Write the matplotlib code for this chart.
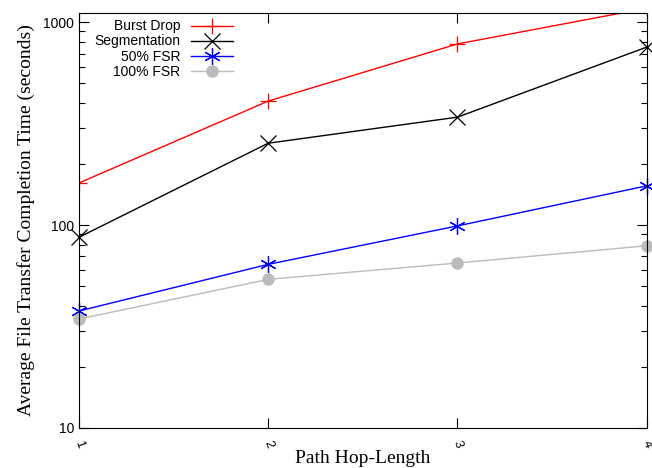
#!/usr/bin/env python3
# -*- coding: utf-8 -*-

import numpy as np
import matplotlib
matplotlib.use('Agg')
import matplotlib.pyplot as plt
from matplotlib.ticker import LogLocator, NullFormatter, FixedLocator

# data
hops = [1, 2, 3, 4]
burst_drop = [161, 408, 780, 1170]
segmentation = [87, 253, 340, 753]
fsr_50 = [37.7, 64, 99, 156]
fsr_100 = [34.4, 54, 65, 79]

fig = plt.figure(figsize=(6.52, 4.68), dpi=100)
ax = fig.add_axes([0.121, 0.0855, 0.871, 0.8865])

ax.plot(hops, burst_drop, color='red', lw=1, marker='+', ms=12, mew=0.9, label='Burst Drop')
ax.plot(hops, segmentation, color='black', lw=1, marker='x', ms=11, mew=0.9, label='Segmentation', clip_on=False)
ax.plot(hops, fsr_50, color='blue', lw=1, marker=(6, 2, 0), ms=12, mew=0.9, label='50% FSR', clip_on=False)
ax.plot(hops, fsr_100, color='#bbbbbb', lw=1, marker='o', ms=9, mew=0, label='100% FSR', clip_on=False)

ax.set_yscale('log')
ax.set_xlim(1, 4)
ax.set_ylim(10, 1107)

ax.xaxis.set_major_locator(FixedLocator(hops))
ax.set_xticklabels([str(h) for h in hops], rotation=-70, fontsize=9, family='Liberation Sans')
ax.yaxis.set_minor_locator(LogLocator(base=10, subs=np.arange(2, 10)))
ax.yaxis.set_minor_formatter(NullFormatter())
ax.set_yticks([10, 100, 1000])
ax.set_yticklabels(['10', '100', '1000'], fontsize=10, family='Liberation Sans')

ax.tick_params(which='major', direction='in', length=7, top=True, right=True, width=0.8)
ax.tick_params(which='minor', direction='in', length=4, top=True, right=True, width=0.8)
ax.tick_params(axis='x', pad=8)

ax.set_xlabel('Path Hop-Length', family='Liberation Serif', fontsize=14, labelpad=0)
ax.set_ylabel('Average File Transfer Completion Time (seconds)', family='Liberation Serif', fontsize=14, labelpad=6)

leg = ax.legend(loc='upper left', frameon=False, markerfirst=False,
                prop={'family': 'Liberation Sans', 'size': 10}, handlelength=3.0,
                labelspacing=0.08, borderaxespad=0.2, bbox_to_anchor=(0.012, 1.005))
for t in leg.get_texts():
    t.set_ha('right')
leg._legend_box.align = 'right'

plt.savefig('out.png', dpi=100)
